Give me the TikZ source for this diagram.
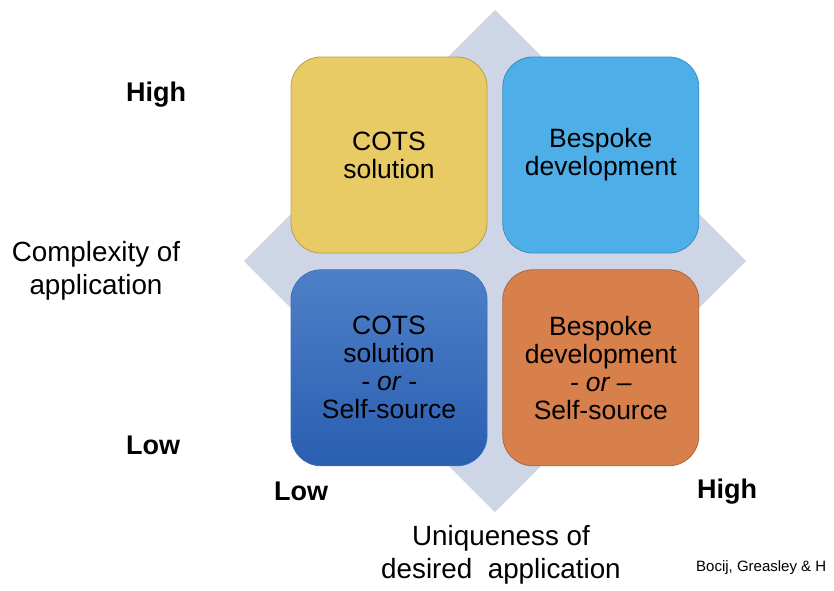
\documentclass[tikz,border=0pt]{standalone}
\usepackage{fontspec}
\setmainfont{Liberation Sans}
\usepackage{tikz}
\usetikzlibrary{positioning}
\definecolor{qdGrey}{RGB}{206,213,230}
\definecolor{qdYellow}{RGB}{232,203,100}
\definecolor{qdYellowLine}{RGB}{184,158,80}
\definecolor{qdSky}{RGB}{78,174,232}
\definecolor{qdSkyLine}{RGB}{58,140,196}
\definecolor{qdBlueTop}{RGB}{78,128,200}
\definecolor{qdBlueBot}{RGB}{42,94,176}
\definecolor{qdBlueLine}{RGB}{60,110,185}
\definecolor{qdOrange}{RGB}{215,128,76}
\definecolor{qdOrangeLine}{RGB}{170,100,60}
\tikzset{
  quadBox/.style={rounded corners=30pt, minimum width=196pt, minimum height=196pt,
    line width=0.8pt, align=center, inner sep=0pt, font=\fontsize{26.5}{28}\selectfont},
  axisLabel/.style={align=center, font=\fontsize{27.8}{33}\selectfont},
  levelLabel/.style={font=\fontsize{27}{30}\selectfont\bfseries}
}
\begin{document}
\begin{tikzpicture}[x=1pt, y=-1pt]
    \useasboundingbox (0,0) rectangle (834,590);
    % backdrop
    \fill[qdGrey] (495,10) -- (746,261) -- (495,512) -- (244,261) -- cycle;
    % the four quadrants
    \node[quadBox, draw=qdYellowLine, fill=qdYellow] (cots) at (389,155) {COTS\\solution};
    \node[quadBox, draw=qdSkyLine, fill=qdSky, right=15pt of cots] (bespoke) {Bespoke\\development};
    \node[quadBox, draw=qdBlueLine, top color=qdBlueTop, bottom color=qdBlueBot, below=16pt of cots] (cotsSelf)
      {COTS\\solution\\\textit{- or -}\\Self-source};
    \node[quadBox, draw=qdOrangeLine, fill=qdOrange, below=16pt of bespoke] (bespokeSelf)
      {Bespoke\\development\\\textit{- or –}\\Self-source};
    % axis labels
    \node[levelLabel] (yHigh) at (156,95) {High};
    \node[levelLabel] (yLow) at (153,445) {Low};
    \node[axisLabel] (yAxis) at (96,271) {Complexity of\\application};
    \node[levelLabel] (xLow) at (301,491) {Low};
    \node[levelLabel] (xHigh) at (727,492) {High};
    \node[axisLabel] (xAxis) at (501,555) {Uniqueness of\\desired~ application};
    \node[anchor=west, inner sep=0pt, font=\fontsize{15}{17}\selectfont] (source) at (696,568) {Bocij, Greasley \& H};
  \end{tikzpicture}
\end{document}
